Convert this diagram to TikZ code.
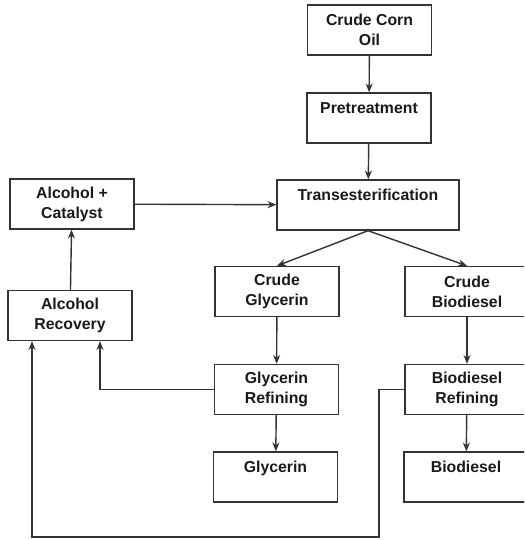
\documentclass[tikz,border=0pt]{standalone}
\usepackage{fontspec}
\setmainfont{Liberation Sans}
\usetikzlibrary{calc,arrows.meta}

\begin{document}
\begin{tikzpicture}[x=0.02cm,y=-0.02cm,
				stage/.style={draw=black!80,line width=0.8pt,minimum width=2.48cm,minimum height=1cm,
					align=center,inner sep=0pt,font=\bfseries\fontsize{9}{11.4}\selectfont,text=black!90},
				flow/.style={draw=black!80,line width=0.8pt,-{Stealth[length=5pt,width=4pt]}}]
				
				\useasboundingbox (0,0) rectangle (524,540);
				\clip (0,0) rectangle (524,540);
				
				% Feed line
				\node[stage] (oil) at (369.5,30) {Crude Corn\\Oil};
				\node[stage] (pre) at (369,118) {Pretreatment\\\mbox{}};
				\node[stage,minimum width=3.64cm] (trans) at (368,205) {Transesterification\\\mbox{}};
				
				% Alcohol loop
				\node[stage] (alcat) at (72,204) {Alcohol +\\Catalyst};
				\node[stage] (alrec) at (70,315.5) {Alcohol\\Recovery};
				
				% Glycerin branch
				\node[stage] (cgly) at (277,291.5) {Crude\\Glycerin};
				\node[stage] (gref) at (276.5,389.5) {Glycerin\\Refining};
				\node[stage] (gly) at (275.5,477) {Glycerin\\\mbox{}};
				
				% Biodiesel branch
				\node[stage] (cbio) at (467,291.5) {Crude\\Biodiesel};
				\node[stage] (bref) at (467,389.5) {Biodiesel\\Refining};
				\node[stage] (bio) at (466,477) {Biodiesel\\\mbox{}};
				
				% Connections
				\foreach \a/\b in {oil/pre,pre/trans,alrec/alcat,cgly/gref,gref/gly,cbio/bref,bref/bio}
				\draw[flow] (\a) -- (\b);
				\draw[flow] (alcat) -- (trans);
				\draw[flow] (trans.south) -- (cgly.north);
				\draw[flow] (trans.south) -- (cbio.north);
				
				% Recycle lines
				\coordinate (drop) at (379,537);
				\draw[flow] (gref.west) -| ($(alrec.south)+(30,0)$);
				\draw[flow] (bref.west) -| (drop) -| ($(alrec.south)+(-38,0)$);
			\end{tikzpicture}
\end{document}
